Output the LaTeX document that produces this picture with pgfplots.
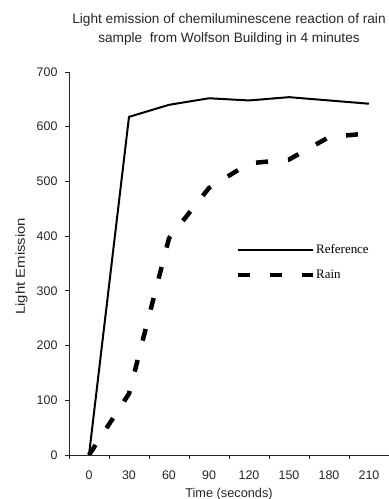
\documentclass[border=0pt]{standalone}
\usepackage{fontspec}
\setmainfont{Liberation Sans}
\newfontfamily\ylabfont[FakeStretch=1.15]{Liberation Sans}
\newfontfamily\timesfont{Liberation Serif}
\usepackage{pgfplots}
\pgfplotsset{compat=1.18}
\begin{document}
\begin{tikzpicture}
\useasboundingbox (0,0) rectangle (389bp,499bp);
\begin{axis}[
  at={(69bp,44bp)}, anchor=south west,
  scale only axis, width=320bp, height=383bp,
  xmin=-15, xmax=225, ymin=0, ymax=700,
  axis x line*=bottom, axis y line*=left,
  axis line style={-, line width=0.8bp, black!85},
  xtick={0,30,...,210}, minor xtick={-15,15,...,195},
  ytick={0,100,...,700},
  tick align=outside,
  major tick length=4bp, minor tick length=4bp,
  major x tick style={draw=none},
  minor x tick style={line width=0.8bp, black!85},
  major y tick style={line width=0.8bp, black!85},
  /pgf/number format/assume math mode=true,
  ticklabel style={font=\fontsize{12.5}{14}\selectfont, text=black!85},
  xticklabel style={anchor=base, yshift=-20bp},
  yticklabel style={anchor=east, xshift=-4bp},
  every axis title/.style={at={(axis description cs:0.5,1)}, anchor=base, yshift=29bp, align=center, font=\fontsize{13.7}{20}\selectfont, text=black!85},
  title={Light emission of chemiluminescene reaction of rain\\sample\ \ from Wolfson Building in 4 minutes},
  every axis x label/.style={at={(axis description cs:0.5,0)}, anchor=base, yshift=-42bp, font=\fontsize{12.8}{14}\selectfont, text=black!85},
  every axis y label/.style={at={(axis description cs:0,0.493)}, xshift=-44bp, rotate=90, anchor=base, font=\ylabfont\fontsize{13}{15}\selectfont, text=black!85},
  xlabel={Time (seconds)},
  ylabel={Light Emission},
  legend cell align=left,
  legend image code/.code={\draw[#1] (0bp,0bp) -- (75bp,0bp);},
  legend style={draw=none, fill=none, at={(axis description cs:0.522,0.5026)}, anchor=west, inner sep=0pt, row sep=12bp,
    font=\timesfont\fontsize{13}{15}\selectfont,
    nodes={inner sep=0.5bp, text height=9bp, text depth=3bp}},
]
\addplot[black, line width=2bp, line join=miter] coordinates {
  (0,0) (30,618) (60,640) (90,652) (120,648) (150,654) (180,648) (210,642)};
\addlegendentry{Reference}
\addplot[black, line width=4.5bp, dash pattern=on 12bp off 20bp, line cap=butt] coordinates {
  (0,0) (30,112) (60,396) (90,488) (120,533) (150,540) (180,581) (210,588)};
\addlegendentry{Rain}
\end{axis}
\end{tikzpicture}
\end{document}
